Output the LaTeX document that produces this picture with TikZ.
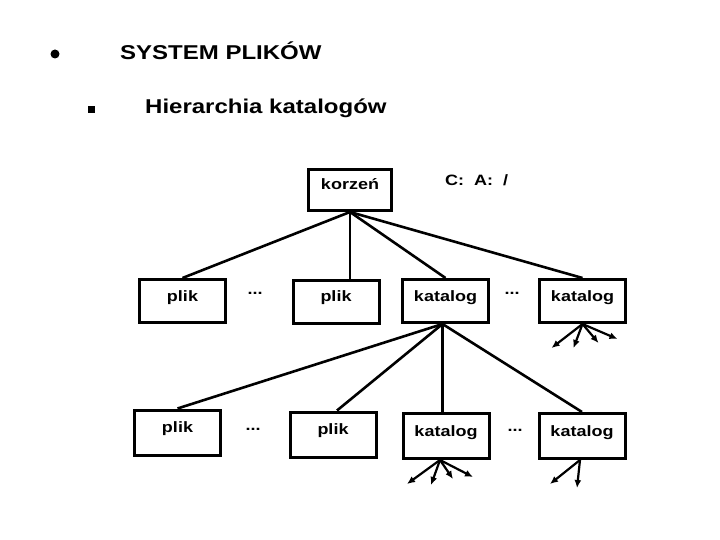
\documentclass[tikz,border=0pt]{standalone}
\usepackage{fontspec}
\setmainfont{Liberation Sans}[FakeStretch=1.2]
\usetikzlibrary{arrows.meta}
\begin{document}
\begin{tikzpicture}[x=1pt,y=-1pt,
  box/.style={draw,line width=3pt,inner sep=0pt,minimum width=86pt,
    text height=21.5pt,text depth=21.5pt,font=\fontsize{15}{17}\selectfont\bfseries},
  box2/.style={box,text height=22.5pt,text depth=22.5pt},
  conn/.style={line width=2.6pt},
  arr/.style={line width=2.2pt,-{Latex[length=8pt,width=7pt]}},
  lbl/.style={inner sep=0pt,anchor=base,font=\fontsize{15}{17}\selectfont\bfseries},
  title/.style={inner sep=0pt,anchor=base west,font=\fontsize{20}{24}\selectfont\bfseries}]
\useasboundingbox (0,0) rectangle (720,540);
% headings
\node[circle,fill,inner sep=0pt,minimum size=9pt] (b1) at (55,54) {};
\node[title] (t1) at (120,60) {SYSTEM PLIKÓW};
\node[rectangle,fill,inner sep=0pt,minimum size=7pt] (b2) at (91,110) {};
\node[title] (t2) at (145,114) {Hierarchia katalogów};
% root
\node[box,minimum width=83pt,text height=20.5pt,text depth=20.5pt] (root) at (350,190) {korzeń};
\node[lbl,anchor=base west] (drv) at (445,186) {C:\ \ A:\ \ /};
% row 1
\node[box] (p1) at (182.5,301) {plik};
\node[lbl] (d1) at (255,294) {...};
\node[box] (p2) at (336,301.5) {plik};
\node[box] (k1) at (445.5,301) {katalog};
\node[lbl] (d2) at (512,294) {...};
\node[box] (k2) at (582.5,301) {katalog};
% row 2
\node[box2] (p3) at (177.5,432.5) {plik};
\node[lbl] (d3) at (253,430) {...};
\node[box2] (p4) at (333,434.5) {plik};
\node[box2] (k3) at (446,436) {katalog};
\node[lbl] (d4) at (515,431) {...};
\node[box2] (k4) at (582,436) {katalog};
% connectors from root
\draw[conn] (root.south) -- (p1.north);
\draw[conn] (root.south) -- (root.south |- p2.north);
\draw[conn] (root.south) -- (k1.north);
\draw[conn] (root.south) -- (k2.north);
% connectors from k1
\coordinate (j1) at ([xshift=-3pt]k1.south);
\draw[conn] (j1) -- (p3.north);
\draw[conn] (j1) -- ([xshift=4pt]p4.north);
\draw[conn] (j1) -- (j1 |- k3.north);
\draw[conn] (j1) -- (k4.north);
% arrows
\coordinate (j2) at (k2.south);
\draw[arr] (j2) -- ++(-31,24);
\draw[arr] (j2) -- ++(-9,24);
\draw[arr] (j2) -- ++(16,19);
\draw[arr] (j2) -- ++(35,15);
\coordinate (j3) at ([xshift=-6pt]k3.south);
\draw[arr] (j3) -- ++(-33,24);
\draw[arr] (j3) -- ++(-9,25);
\draw[arr] (j3) -- ++(13,19);
\draw[arr] (j3) -- ++(33,17);
\coordinate (j4) at ([xshift=-2pt]k4.south);
\draw[arr] (j4) -- ++(-30,24);
\draw[arr] (j4) -- ++(-3,28);
\end{tikzpicture}
\end{document}
